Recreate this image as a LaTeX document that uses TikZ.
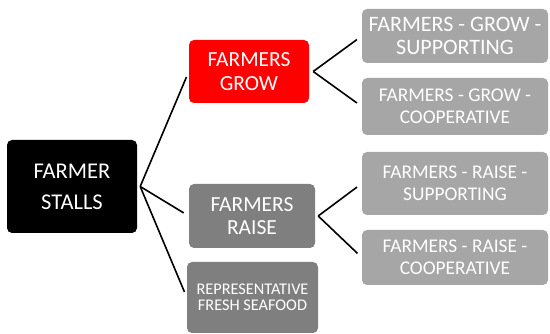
\documentclass[tikz,border=0pt]{standalone}
\usepackage{fontspec}
\setmainfont{Carlito}
\definecolor{redbox}{HTML}{FF0000}
\definecolor{darkbox}{HTML}{7F7F7F}
\definecolor{lightbox}{HTML}{A6A6A6}
\begin{document}
\begin{tikzpicture}[x=1pt,y=-1pt,
  box/.style={rectangle, rounded corners=5pt, inner sep=0pt, align=center, text=white, draw=none},
  link/.style={line width=1.6pt, shorten >=6pt}]
\useasboundingbox (0,0) rectangle (550,334);
\node[box, fill=black, minimum width=130pt, minimum height=93pt,
  font=\fontsize{22.5}{31}\selectfont] (root) at (72,186.5) {FARMER\\STALLS};
\node[box, fill=redbox, minimum width=120pt, minimum height=63pt,
  font=\fontsize{21.5}{23.5}\selectfont] (grow) at (249,71.5) {FARMERS\\GROW};
\node[box, fill=darkbox, minimum width=126pt, minimum height=64pt,
  font=\fontsize{21.5}{23.5}\selectfont] (raise) at (252,216) {FARMERS\\RAISE};
\node[box, fill=darkbox, minimum width=131pt, minimum height=71pt,
  font=\fontsize{16.3}{16}\selectfont] (sea) at (252.5,297.5) {REPRESENTATIVE\\FRESH SEAFOOD};
\node[box, fill=lightbox, minimum width=186pt, minimum height=54pt,
  font=\fontsize{22}{23}\selectfont] (c1) at (455,36) {FARMERS - GROW -\\SUPPORTING};
\node[box, fill=lightbox, minimum width=186pt, minimum height=57pt,
  font=\fontsize{19.4}{22}\selectfont] (c2) at (455,106.5) {FARMERS - GROW -\\COOPERATIVE};
\node[box, fill=lightbox, minimum width=186pt, minimum height=63pt,
  font=\fontsize{19.4}{22}\selectfont] (c3) at (455,183.5) {FARMERS - RAISE -\\SUPPORTING};
\node[box, fill=lightbox, minimum width=186pt, minimum height=55pt,
  font=\fontsize{19.4}{22}\selectfont] (c4) at (455,257.5) {FARMERS - RAISE -\\COOPERATIVE};
\coordinate (ra) at ([xshift=3pt]root.east);
\coordinate (ga) at ([xshift=4pt]grow.east);
\coordinate (sa) at ([xshift=3pt]raise.east);
\draw[link] (ra) -- (grow.west);
\draw[link] (ra) -- (raise.west);
\draw[link] (ra) -- (sea.west);
\draw[link] (ga) -- (c1.west);
\draw[link] (ga) -- (c2.west);
\draw[link] (sa) -- (c3.west);
\draw[link] (sa) -- (c4.west);
\end{tikzpicture}
\end{document}
